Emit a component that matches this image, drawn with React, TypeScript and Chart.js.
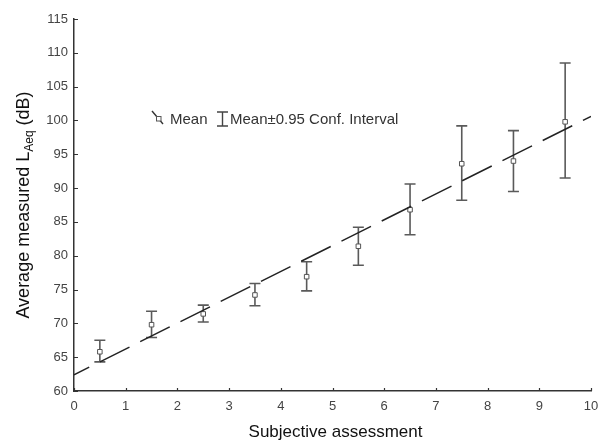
import React, { useEffect, useRef } from "react";
import { Chart, registerables } from "chart.js";

Chart.register(...registerables);

// ---- data ----
const categories = [0.5, 1.5, 2.5, 3.5, 4.5, 5.5, 6.5, 7.5, 8.5, 9.5];
const meanValues = [65.8, 69.8, 71.4, 74.2, 76.9, 81.4, 86.8, 93.6, 94.0, 99.8];
const upperValues = [67.5, 71.8, 72.7, 75.9, 79.1, 84.2, 90.6, 99.2, 98.5, 108.5];
const lowerValues = [64.3, 67.9, 70.2, 72.6, 74.8, 78.6, 83.1, 88.2, 89.5, 91.5];
const fitX = [0, 10];
const fitY = [62.4, 100.6];
const xTickValues = [0, 1, 2, 3, 4, 5, 6, 7, 8, 9, 10];
const yTickValues = [60, 65, 70, 75, 80, 85, 90, 95, 100, 105, 110, 115];
const xTitle = "Subjective assessment";
const yTitleMain = "Average measured L";
const yTitleSub = "Aeq";
const yTitleEnd = " (dB)";
const legendMean = "Mean";
const legendCI = "Mean±0.95 Conf. Interval";

const FONT = "Arial, 'Liberation Sans', sans-serif";

const customPlugin = {
  id: "custom",
  beforeDatasetsDraw(chart: any) {
    const ctx = chart.ctx;
    const xs = chart.scales.x;
    const ys = chart.scales.y;
    ctx.save();
    ctx.strokeStyle = "#5a5a5a";
    ctx.lineWidth = 1.6;
    categories.forEach((c, i) => {
      const px = xs.getPixelForValue(c);
      const pu = ys.getPixelForValue(upperValues[i]);
      const pl = ys.getPixelForValue(lowerValues[i]);
      ctx.beginPath();
      ctx.moveTo(px, pu);
      ctx.lineTo(px, pl);
      ctx.moveTo(px - 5.5, pu);
      ctx.lineTo(px + 5.5, pu);
      ctx.moveTo(px - 5.5, pl);
      ctx.lineTo(px + 5.5, pl);
      ctx.stroke();
    });
    ctx.restore();
  },
  afterDraw(chart: any) {
    const ctx = chart.ctx;
    const xs = chart.scales.x;
    const ys = chart.scales.y;
    const area = chart.chartArea;
    ctx.save();
    // inward ticks
    ctx.strokeStyle = "#333";
    ctx.lineWidth = 1.2;
    ctx.beginPath();
    xTickValues.forEach((v) => {
      const px = Math.round(xs.getPixelForValue(v)) + 0.5;
      ctx.moveTo(px, area.bottom);
      ctx.lineTo(px, area.bottom - 3);
    });
    yTickValues.forEach((v) => {
      const py = Math.round(ys.getPixelForValue(v)) + 0.5;
      ctx.moveTo(area.left, py);
      ctx.lineTo(area.left + 4, py);
    });
    ctx.stroke();

    // x title
    ctx.fillStyle = "#111";
    ctx.font = `17px ${FONT}`;
    ctx.textAlign = "center";
    ctx.textBaseline = "middle";
    ctx.fillText(xTitle, (area.left + area.right) / 2 + 3, 432);

    // y title (rotated, with subscript)
    ctx.save();
    ctx.translate(23, (area.top + area.bottom) / 2);
    ctx.rotate(-Math.PI / 2);
    const mainFont = `18px ${FONT}`;
    const subFont = `12px ${FONT}`;
    ctx.font = mainFont;
    const w1 = ctx.measureText(yTitleMain).width;
    const w3 = ctx.measureText(yTitleEnd).width;
    ctx.font = subFont;
    const w2 = ctx.measureText(yTitleSub).width;
    const total = w1 + w2 + w3;
    let x0 = -total / 2;
    ctx.textAlign = "left";
    ctx.textBaseline = "alphabetic";
    ctx.font = mainFont;
    ctx.fillText(yTitleMain, x0, 6);
    x0 += w1;
    ctx.font = subFont;
    ctx.fillText(yTitleSub, x0, 10);
    x0 += w2;
    ctx.font = mainFont;
    ctx.fillText(yTitleEnd, x0, 6);
    ctx.restore();

    // legend
    ctx.strokeStyle = "#333";
    ctx.lineWidth = 1.4;
    ctx.beginPath();
    ctx.moveTo(152, 111);
    ctx.lineTo(163, 124);
    ctx.stroke();
    ctx.fillStyle = "#fff";
    ctx.strokeStyle = "#555";
    ctx.lineWidth = 1;
    ctx.fillRect(156, 116, 5, 5);
    ctx.strokeRect(156.5, 116.5, 4.5, 4.5);

    ctx.strokeStyle = "#444";
    ctx.lineWidth = 1.4;
    ctx.beginPath();
    ctx.moveTo(222.5, 112);
    ctx.lineTo(222.5, 126);
    ctx.moveTo(217, 112);
    ctx.lineTo(228, 112);
    ctx.moveTo(217, 126);
    ctx.lineTo(228, 126);
    ctx.stroke();

    ctx.fillStyle = "#333";
    ctx.font = `15px ${FONT}`;
    ctx.textAlign = "left";
    ctx.textBaseline = "alphabetic";
    ctx.fillText(legendMean, 170, 124);
    ctx.fillText(legendCI, 230, 124);
    ctx.restore();
  },
};

export default function App() {
  const ref = useRef<HTMLCanvasElement | null>(null);
  useEffect(() => {
    if (!ref.current) return;
    const chart = new Chart(ref.current, {
      type: "scatter",
      data: {
        datasets: [
          {
            type: "line",
            data: fitX.map((x, i) => ({ x, y: fitY[i] })),
            borderColor: "#222",
            borderWidth: 1.5,
            borderDash: [33, 12],
            borderDashOffset: 16,
            pointRadius: 0,
            fill: false,
            tension: 0,
          } as any,
          {
            type: "scatter",
            data: categories.map((x, i) => ({ x, y: meanValues[i] })),
            pointStyle: "rect",
            pointRadius: 3.2,
            backgroundColor: "#fff",
            borderColor: "#555",
            borderWidth: 1,
          } as any,
        ],
      },
      options: {
        animation: false,
        responsive: false,
        maintainAspectRatio: false,
        layout: { padding: { left: 0, right: 8, top: 19, bottom: 0 } },
        plugins: { legend: { display: false }, tooltip: { enabled: false } },
        scales: {
          x: {
            type: "linear",
            min: 0,
            max: 10,
            grid: { display: false, drawTicks: false },
            border: { display: true, color: "#333", width: 1.5 },
            ticks: {
              stepSize: 1,
              padding: 8,
              color: "#444",
              font: { family: FONT, size: 13 },
            },
            afterFit: (s: any) => {
              s.height = 50;
              s.paddingRight = 0;
              s.paddingLeft = 0;
            },
          },
          y: {
            type: "linear",
            min: 60,
            max: 115,
            grid: { display: false, drawTicks: false },
            border: { display: true, color: "#333", width: 1.5 },
            ticks: {
              stepSize: 5,
              padding: 6,
              color: "#444",
              font: { family: FONT, size: 13 },
            },
            afterFit: (s: any) => {
              s.width = 74;
              s.paddingTop = 0;
              s.paddingBottom = 0;
            },
          },
        },
      },
      plugins: [customPlugin],
    });
    return () => chart.destroy();
  }, []);
  return (
    <div style={{ position: "fixed", left: 0, top: 0, width: 599, height: 441, background: "#fff" }}>
      <canvas ref={ref} width={599} height={441} style={{ width: 599, height: 441, display: "block" }} />
    </div>
  );
}
